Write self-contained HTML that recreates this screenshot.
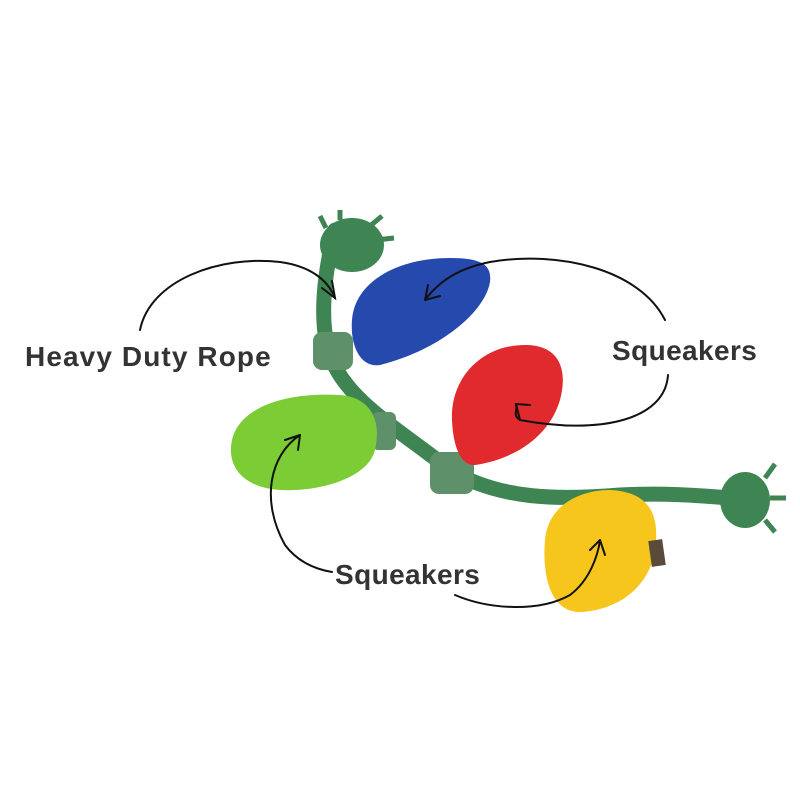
<!DOCTYPE html>
<html><head><meta charset="utf-8"><style>
html,body{margin:0;padding:0;background:#fff;width:800px;height:800px;overflow:hidden}
svg{display:block}
text{font-family:"Liberation Sans",sans-serif;font-weight:bold;fill:#333;font-size:28px}
</style></head><body>
<svg width="800" height="800" viewBox="0 0 800 800">
<!-- rope -->
<path d="M335 230 C325 270 318 320 330 355 C345 400 400 430 450 470 C500 500 560 500 620 495 C680 492 720 498 760 500" fill="none" stroke="#3f8553" stroke-width="15" stroke-linecap="round"/>
<!-- knots -->
<ellipse cx="352" cy="245" rx="32" ry="27" fill="#3f8553"/>
<path d="M326 228 l-6 -12 M340 220 l0 -10 M370 226 l12 -10 M376 240 l18 -2" stroke="#3f8553" stroke-width="5"/>
<ellipse cx="745" cy="500" rx="25" ry="28" fill="#3f8553"/>
<path d="M765 478 l10 -14 M770 498 l16 0 M765 520 l10 12" stroke="#3f8553" stroke-width="5"/>
<!-- sockets -->
<rect x="313" y="332" width="40" height="38" rx="9" fill="#5e9069"/>
<rect x="430" y="452" width="44" height="42" rx="9" fill="#5e9069"/>
<rect x="372" y="412" width="24" height="38" rx="6" fill="#5e9069"/>
<!-- bulbs -->
<path d="M352 320 C355 280 400 258 450 258 C482 258 492 265 490 282 C485 312 440 350 380 365 C360 368 350 345 352 320 Z" fill="#2649ae"/>
<path d="M452 420 C450 380 480 345 525 345 C560 345 568 370 560 400 C548 440 510 460 475 465 C460 466 453 445 452 420 Z" fill="#e02a2d"/>
<path d="M232 440 C240 405 290 392 340 395 C370 397 382 420 375 450 C368 478 320 492 280 490 C245 488 226 468 232 440 Z" fill="#7ccc36"/>
<path d="M545 540 C548 505 580 490 610 490 C650 492 660 515 655 550 C650 585 620 610 580 612 C550 612 542 575 545 540 Z" fill="#f6c61c"/>
<rect x="650" y="540" width="14" height="26" fill="#5a4a3a" transform="rotate(-8 657 553)"/>
<!-- arrows -->
<g fill="none" stroke="#111" stroke-width="2" stroke-linecap="round">
<path d="M140 330 C150 280 220 255 280 262 C310 266 328 280 335 298"/>
<path d="M322 288 L335 298 L332 281"/>
<path d="M490 262 C560 250 640 270 665 320 M668 375 C665 420 600 435 520 420 C512 415 518 410 516 405"/>
<path d="M490 262 C460 268 440 280 425 300"/>
<path d="M425 300 L428 285 M425 300 L440 296"/>
<path d="M520 420 L516 404 L530 405"/>
<path d="M300 435 C270 455 260 500 285 545 C300 565 320 570 332 572"/>
<path d="M300 435 L285 440 M300 435 L298 450"/>
<path d="M455 595 C490 610 540 612 570 595 C590 580 598 555 600 540"/>
<path d="M600 540 L590 550 M600 540 L605 555"/>
</g>
<text x="25" y="366" letter-spacing="1.1">Heavy Duty Rope</text>
<text x="612" y="360" letter-spacing="0.4">Squeakers</text>
<text x="335" y="584" letter-spacing="0.4">Squeakers</text>
</svg>
</body></html>
